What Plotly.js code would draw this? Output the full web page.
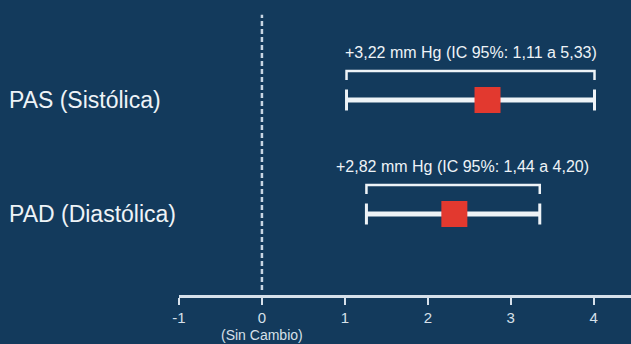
<!DOCTYPE html>
<html>
<head>
<meta charset="utf-8">
<script src="https://cdn.plot.ly/plotly-3.0.1.min.js"></script>
<style>
html,body{margin:0;padding:0;background:#133a5c;}
#chart{width:631px;height:344px;}
</style>
</head>
<body>
<div id="chart"></div>
<script>
// Data
const categories = ["PAS (Sistólica)", "PAD (Diastólica)"];
const rowPos = [1, 0];
const pointValues = [2.72, 2.32];
const lowValues = [1.02, 1.26];
const highValues = [4.01, 3.35];
const ciLabels = ["+3,22 mm Hg (IC 95%: 1,11 a 5,33)", "+2,82 mm Hg (IC 95%: 1,44 a 4,20)"];
const tickValues = [-1, 0, 1, 2, 3, 4];
const tickLabels = ["-1", "0", "1", "2", "3", "4"];
const refLabel = "(Sin Cambio)";

const FONT = "Liberation Sans, Arial, sans-serif";
const LIGHT = "#eef3f7";
const AXIS = "#d6e0ea";
const RED = "#e2392f";

const traces = [];
const shapes = [];
const annotations = [];

categories.forEach((cat, i) => {
  const y = rowPos[i];
  traces.push({
    x: [lowValues[i], highValues[i]], y: [y, y],
    mode: "lines", line: {color: LIGHT, width: 5},
    hoverinfo: "skip", showlegend: false
  });
  traces.push({
    x: [lowValues[i], highValues[i]], y: [y, y],
    mode: "markers",
    marker: {symbol: "line-ns", size: 15, line: {color: LIGHT, width: 3}},
    hoverinfo: "skip", showlegend: false
  });
  traces.push({
    x: [pointValues[i]], y: [y],
    mode: "markers",
    marker: {symbol: "square", size: 26, color: RED, line: {width: 0}},
    showlegend: false
  });
  const yt = y + 0.255, yb = y + 0.175;
  const x0 = lowValues[i], x1 = highValues[i];
  shapes.push({
    type: "path", xref: "x", yref: "y",
    path: `M ${x0},${yb} L ${x0},${yt} L ${x1},${yt} L ${x1},${yb}`,
    line: {color: LIGHT, width: 2.5}
  });
  annotations.push({
    x: (x0 + x1) / 2, y: y + 0.42, xref: "x", yref: "y",
    text: ciLabels[i], showarrow: false,
    xshift: i === 1 ? 9 : 0,
    font: {family: FONT, size: 16, color: LIGHT}
  });
  annotations.push({
    x: -0.38, y: y, xref: "paper", yref: "y",
    xanchor: "left", text: cat, showarrow: false,
    font: {family: FONT, size: 23, color: LIGHT}
  });
});

shapes.push({
  type: "line", xref: "x", yref: "paper",
  x0: 0, x1: 0, y0: 0.017, y1: 0.95,
  line: {color: "#c9d6e3", width: 2.5, dash: "5px,3px"}
});

annotations.push({
  x: 0, y: -0.1, xref: "x", yref: "paper", yanchor: "top",
  text: refLabel, showarrow: false,
  font: {family: FONT, size: 14, color: AXIS}
});

const layout = {
  width: 631, height: 344,
  margin: {l: 178.5, r: 0, t: 0, b: 49},
  paper_bgcolor: "#133a5c",
  plot_bgcolor: "#133a5c",
  showlegend: false,
  xaxis: {
    range: [-1, 4.45],
    tickvals: tickValues, ticktext: tickLabels,
    showgrid: false, zeroline: false,
    showline: true, linecolor: AXIS, linewidth: 2.5,
    ticks: "outside", ticklen: 7, tickwidth: 2, tickcolor: AXIS,
    tickfont: {family: FONT, size: 15, color: AXIS},
    fixedrange: true
  },
  yaxis: {
    range: [-0.7105, 1.877],
    visible: false, showgrid: false, zeroline: false,
    fixedrange: true
  },
  shapes: shapes,
  annotations: annotations
};

Plotly.newPlot("chart", traces, layout, {displayModeBar: false, staticPlot: true});
</script>
</body>
</html>
